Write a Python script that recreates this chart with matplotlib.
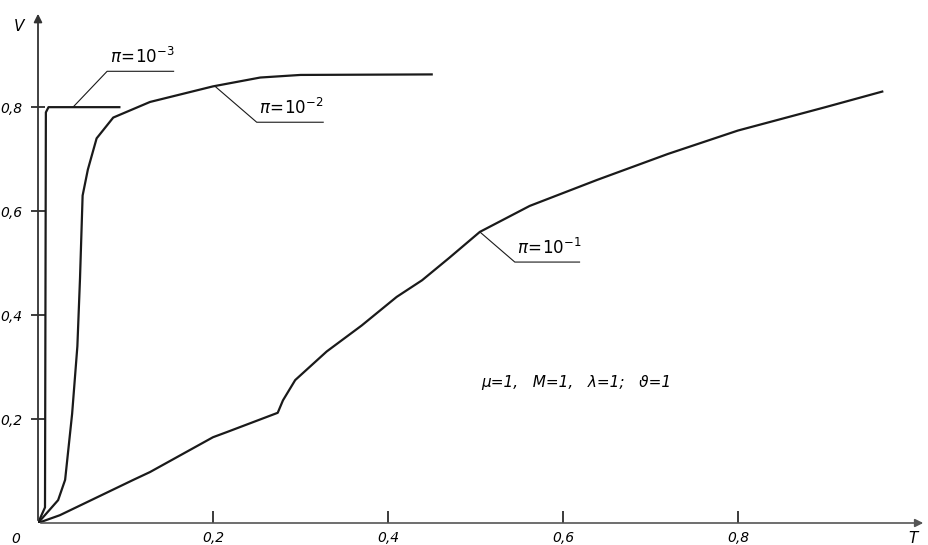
import numpy as np
import matplotlib
matplotlib.use('Agg')
import matplotlib.pyplot as plt

plt.rcParams['font.family'] = ['DejaVu Sans']
plt.rcParams['mathtext.fontset'] = 'dejavusans'
plt.rcParams['mathtext.default'] = 'it'

# curves V(T)
t_3 = [0.0, 0.008, 0.009, 0.012, 0.093]
v_3 = [0.0, 0.03, 0.79, 0.80, 0.80]

t_2 = [0.0, 0.023, 0.031, 0.039, 0.045, 0.048, 0.051, 0.057, 0.067, 0.086,
       0.128, 0.2, 0.254, 0.30, 0.45]
v_2 = [0.0, 0.044, 0.083, 0.21, 0.34, 0.47, 0.63, 0.68, 0.74, 0.78,
       0.81, 0.84, 0.857, 0.862, 0.863]

t_1 = [0.0, 0.025, 0.109, 0.128, 0.2, 0.216, 0.274, 0.28, 0.294, 0.33, 0.37,
       0.41, 0.439, 0.47, 0.505, 0.562, 0.639, 0.72, 0.8, 0.9, 0.965]
v_1 = [0.0, 0.015, 0.083, 0.098, 0.165, 0.175, 0.212, 0.236, 0.275, 0.33, 0.38,
       0.435, 0.467, 0.51, 0.56, 0.61, 0.66, 0.71, 0.755, 0.80, 0.83]

x_ticks = [0.2, 0.4, 0.6, 0.8]
x_tick_labels = ['0,2', '0,4', '0,6', '0,8']
y_ticks = [0.2, 0.4, 0.6, 0.8]
y_tick_labels = ['0,2', '0,4', '0,6', '0,8']

# labels: text, curve, anchor T on curve, elbow (T, V), end T of underline
labels = [
    (r'$\pi\!=\!10^{-3}$', t_3, v_3, 0.04, (0.079, 0.869), 0.155),
    (r'$\pi\!=\!10^{-2}$', t_2, v_2, 0.202, (0.25, 0.771), 0.326),
    (r'$\pi\!=\!10^{-1}$', t_1, v_1, 0.505, (0.545, 0.502), 0.619),
]

fig = plt.figure(figsize=(9.29, 5.45), dpi=100)
ax = fig.add_axes([38 / 929, 22 / 545, 888 / 929, 512 / 545])
ax.set_xlim(0, 1.015)
ax.set_ylim(0, 0.985)
for s in ax.spines.values():
    s.set_visible(False)

ink = '#1a1a1a'
for t, v in [(t_3, v_3), (t_2, v_2), (t_1, v_1)]:
    ax.plot(t, v, color=ink, lw=1.6, solid_joinstyle='round')

# axes drawn as arrows
ax.annotate('', xy=(1.0, 0), xytext=(0, 0), xycoords='axes fraction',
            arrowprops=dict(arrowstyle='-|>', color='#555555', lw=1.2,
                            mutation_scale=12), annotation_clip=False)
ax.annotate('', xy=(0, 1.0), xytext=(0, 0), xycoords='axes fraction',
            arrowprops=dict(arrowstyle='-|>', color='#333333', lw=1.3,
                            mutation_scale=12), annotation_clip=False)

ax.set_xticks(x_ticks)
ax.set_xticklabels(x_tick_labels, fontstyle='italic', fontsize=10)
ax.set_yticks(y_ticks)
ax.set_yticklabels(y_tick_labels, fontstyle='italic', fontsize=10)
ax.tick_params(direction='inout', length=10, width=1.2, color=ink, pad=2)
ax.tick_params(axis='x', direction='in', length=9, pad=6)
ax.tick_params(axis='y', pad=6)

ax.text(-0.02, -0.03, '0', ha='right', va='center',
        fontstyle='italic', fontsize=10)
ax.text(1.0, -0.03, 'T', ha='center', va='center', fontstyle='italic',
        fontsize=11)
ax.text(-0.022, 0.955, 'V', ha='center', va='center', fontstyle='italic',
        fontsize=11)

for txt, t, v, ta, (te, ve), tend in labels:
    va = np.interp(ta, t, v)
    ax.plot([ta, te, tend], [va, ve, ve], color=ink, lw=0.8)
    ax.text(te + 0.003, ve + 0.008, txt, ha='left', va='bottom', fontsize=12)

ax.text(0.507, 0.271, 'μ=1,   M=1,   λ=1;   ϑ=1', ha='left', va='center',
        fontstyle='italic', fontsize=11)

fig.savefig('out.png', dpi=100)
